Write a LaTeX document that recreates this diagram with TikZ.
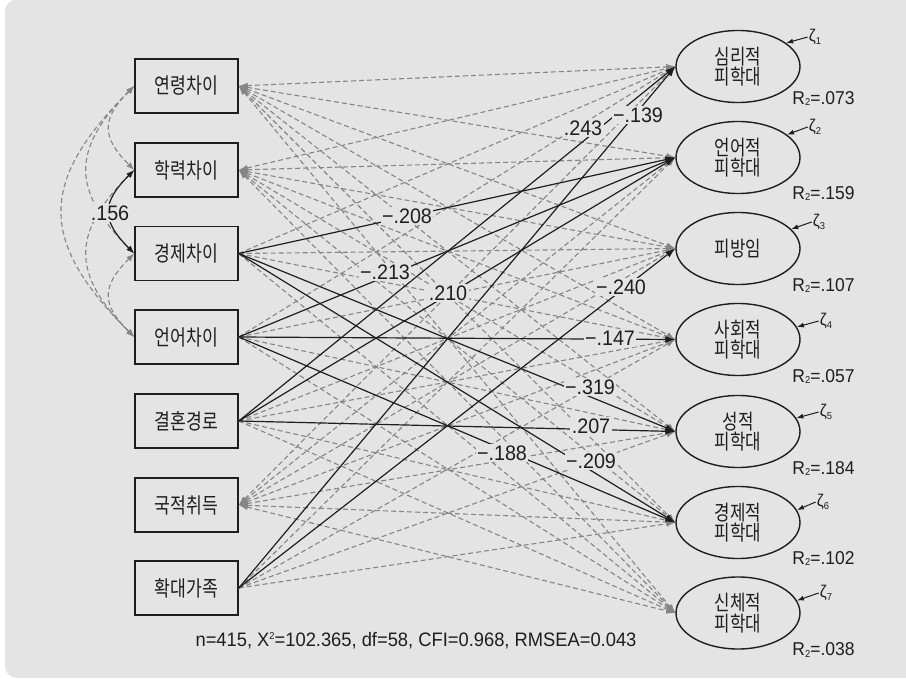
\documentclass[tikz,border=0pt]{standalone}
\usepackage{fontspec}
\setmainfont{Liberation Sans}[FakeStretch=0.94]
\newfontfamily\kr{Noto Sans CJK KR}[FakeStretch=0.8]
\usetikzlibrary{shapes.geometric,arrows.meta}
\definecolor{bg}{HTML}{E4E4E4}
\definecolor{dgray}{HTML}{858585}
\definecolor{ink}{HTML}{1E1E1E}
\newcommand{\subtwo}{\raisebox{-1.5pt}{\fontsize{10}{10}\selectfont 2}}
\newcommand{\zsub}[1]{\raisebox{-2.5pt}{\fontsize{10}{10}\selectfont #1}}
\begin{document}
\begin{tikzpicture}[x=1pt,y=-1pt,
  box/.style={draw=ink, line width=1.5pt, fill=bg, minimum width=103pt, minimum height=54pt, inner sep=0pt, text=ink, font=\kr\fontsize{21.5}{21.5}\selectfont},
  lat/.style={draw=ink, line width=1.4pt, ellipse, fill=bg, minimum width=124pt, minimum height=72pt, inner sep=0pt, align=center, text=ink, font=\kr\fontsize{21}{20.5}\selectfont},
  dsh/.style={draw=dgray, line width=1.1pt, dash pattern=on 5pt off 3pt, -{Latex[length=9pt,width=6pt]}},
  dshb/.style={draw=dgray, line width=1.1pt, dash pattern=on 5pt off 3pt, {Latex[length=9pt,width=6pt]}-{Latex[length=9pt,width=6pt]}},
  sig/.style={draw=ink, line width=1.2pt, -{Latex[length=10pt,width=7pt]}},
  covd/.style={draw=dgray, line width=1.1pt, dash pattern=on 5pt off 3pt, {Latex[length=8pt,width=6pt]}-{Latex[length=8pt,width=6pt]}},
  covs/.style={draw=ink, line width=1.2pt, {Latex[length=8pt,width=6pt]}-{Latex[length=8pt,width=6pt]}},
  lbl/.style={fill=bg, inner sep=1.5pt, text=ink, font=\fontsize{21}{21}\selectfont},
  rsq/.style={inner sep=0pt, text=ink, font=\fontsize{18.6}{18.6}\selectfont},
  zl/.style={inner sep=1pt, text=ink, font=\fontsize{17}{17}\selectfont},
  za/.style={draw=ink, line width=1pt, -{Latex[length=7pt,width=5pt]}}
]
\useasboundingbox (0,0) rectangle (906,679);
\fill[white] (0,0) rectangle (906,679);
\fill[bg, rounded corners=12pt] (5,-0.5) rectangle (925,678);

% exogenous boxes
\node[box] (b1) at (186.5,86) {연령차이};
\node[box] (b2) at (186.5,170) {학력차이};
\node[box] (b3) at (186.5,253.5) {경제차이};
\node[box] (b4) at (186.5,337) {언어차이};
\node[box] (b5) at (186.5,421) {결혼경로};
\node[box] (b6) at (186.5,505) {국적취득};
\node[box] (b7) at (186.5,588) {확대가족};

% endogenous ellipses
\node[lat] (e1) at (738,66.5) {심리적\\피학대};
\node[lat] (e2) at (738,157.5) {언어적\\피학대};
\node[lat] (e3) at (738,248.5) {피방임};
\node[lat] (e4) at (738,339.5) {사회적\\피학대};
\node[lat] (e5) at (738,431.5) {성적\\피학대};
\node[lat] (e6) at (738,522.5) {경제적\\피학대};
\node[lat] (e7) at (738,613) {신체적\\피학대};

% non-significant paths
\foreach \j in {1,...,7} {
  \draw[dshb] (b1.east) -- (e\j.west);
  \draw[dshb] (b2.east) -- (e\j.west);
  \draw[dshb] (b6.east) -- (e\j.west);
}
\foreach \j in {1,3,4,7} {\draw[dsh] (b3.east) -- (e\j.west);}
\foreach \j in {1,3,5,7} {\draw[dsh] (b4.east) -- (e\j.west);}
\foreach \j in {3,4,6,7} {\draw[dsh] (b5.east) -- (e\j.west);}
\foreach \j in {2,4,5,6} {\draw[dsh] (b7.east) -- (e\j.west);}

% significant paths
\draw[sig] (b3.east) -- (e2.west);
\draw[sig] (b4.east) -- (e2.west);
\draw[sig] (b5.east) -- (e2.west);
\draw[sig] (b5.east) -- (e1.west);
\draw[sig] (b7.east) -- (e1.west);
\draw[sig] (b7.east) -- (e3.west);
\draw[sig] (b4.east) -- (e4.west);
\draw[sig] (b3.east) -- (e5.west);
\draw[sig] (b5.east) -- (e5.west);
\draw[sig] (b4.east) -- (e6.west);
\draw[sig] (b3.east) -- (e6.west);

% covariances
\draw[covd] (b1.west) .. controls +(-33,33) and +(-33,-33) .. (b2.west);
\draw[covd] (b3.west) .. controls +(-33,33) and +(-33,-33) .. (b4.west);
\draw[covd] (b1.west) .. controls +(-63,63) and +(-63,-63) .. (b3.west);
\draw[covd] (b2.west) .. controls +(-63,63) and +(-63,-63) .. (b4.west);
\draw[covd] (b1.west) .. controls +(-96,96) and +(-96,-96) .. (b4.west);
\draw[covs] (b2.west) .. controls +(-33,33) and +(-33,-33) .. (b3.west);

% coefficient labels
\node[lbl] (c0) at (110,213) {.156};
\node[lbl] (c1) at (407,216) {−.208};
\node[lbl] (c2) at (385,272) {−.213};
\node[lbl] (c3) at (448,293) {.210};
\node[lbl] (c4) at (583,128) {.243};
\node[lbl] (c5) at (638,115) {−.139};
\node[lbl] (c6) at (621,287) {−.240};
\node[lbl] (c7) at (610,338) {−.147};
\node[lbl] (c8) at (590,387) {−.319};
\node[lbl] (c9) at (591,426) {.207};
\node[lbl] (c10) at (502,453) {−.188};
\node[lbl] (c11) at (591,461) {−.209};

% disturbances
\node[zl] (z1) at (815,37) {ζ\zsub{1}};
\node[zl] (z2) at (815,127) {ζ\zsub{2}};
\node[zl] (z3) at (819,222) {ζ\zsub{3}};
\node[zl] (z4) at (826,321) {ζ\zsub{4}};
\node[zl] (z5) at (826,412) {ζ\zsub{5}};
\node[zl] (z6) at (823,502) {ζ\zsub{6}};
\node[zl] (z7) at (826,593) {ζ\zsub{7}};
\draw[za] (z1.west) -- (e1.26);
\draw[za] (z2.west) -- (e2.25);
\draw[za] (z3.west) -- (e3.20);
\draw[za] (z4.west) -- (e4.12);
\draw[za] (z5.west) -- (e5.13);
\draw[za] (z6.west) -- (e6.12);
\draw[za] (z7.west) -- (e7.12);

% R-square
\node[rsq] (r1) at (823.5,98.5) {R\subtwo=.073};
\node[rsq] (r2) at (823.5,193.5) {R\subtwo=.159};
\node[rsq] (r3) at (823.5,285.5) {R\subtwo=.107};
\node[rsq] (r4) at (823.5,376.5) {R\subtwo=.057};
\node[rsq] (r5) at (823.5,468.5) {R\subtwo=.184};
\node[rsq] (r6) at (823.5,558.5) {R\subtwo=.102};
\node[rsq] (r7) at (823.5,650) {R\subtwo=.038};

% fit indices
\node[inner sep=0pt, text=ink, font=\fontsize{19.5}{19.5}\selectfont] (fit) at (416,641) {n=415, X\raisebox{7pt}{\fontsize{10}{10}\selectfont 2}=102.365, df=58, CFI=0.968, RMSEA=0.043};
\end{tikzpicture}
\end{document}
